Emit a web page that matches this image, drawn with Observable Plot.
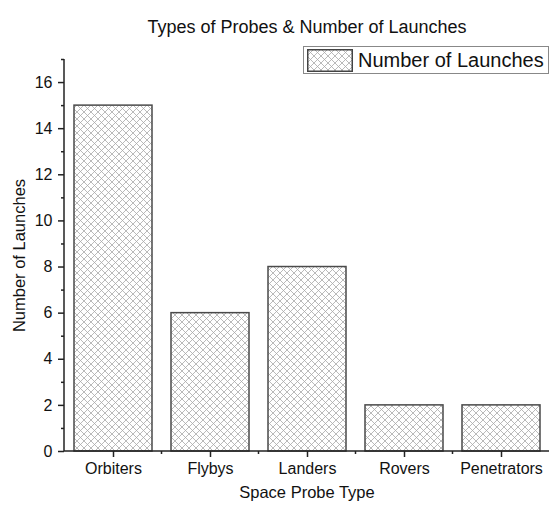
<!DOCTYPE html>
<html><head><meta charset="utf-8">
<script src="https://cdn.jsdelivr.net/npm/d3@7"></script>
<script src="https://cdn.jsdelivr.net/npm/@observablehq/plot@0.6"></script>
<style>
body{margin:0;background:#fff;font-family:"Liberation Sans",Arial,sans-serif}
#wrap{position:relative;width:558px;height:513px}
#legend{position:absolute;left:303px;top:46px;width:246px;height:28px;box-sizing:border-box;border:1px solid #888;background:#fff}
#legend svg{position:absolute;left:3px;top:2px}
#legend span{position:absolute;left:54px;top:1px;font-size:20px;line-height:24px;color:#111;white-space:nowrap}
</style></head><body><div id="wrap"></div>
<script>
const categories = ["Orbiters","Flybys","Landers","Rovers","Penetrators"];
const launches = [15,6,8,2,2];
const yMajorTicks = [0,2,4,6,8,10,12,14,16];
const yMinorTicks = [1,3,5,7,9,11,13,15,17];
const titleText = "Types of Probes & Number of Launches";
const xLabel = "Space Probe Type";
const yLabel = "Number of Launches";
const seriesName = "Number of Launches";

const data = categories.map((c,i)=>({type:c, n:launches[i]}));

const chart = Plot.plot({
  width:558, height:513, marginLeft:64, marginRight:9, marginTop:59, marginBottom:62,
  style:{fontFamily:'"Liberation Sans",Arial,sans-serif', fontSize:"16px", color:"#111", background:"#fff", overflow:"visible"},
  x:{domain:categories, paddingInner:0.2, paddingOuter:0.1},
  y:{domain:[0,17]},
  marks:[
    Plot.barY(data,{x:"type", y:"n", fill:"url(#hatch)", stroke:"#4a4a4a", strokeWidth:1.5}),
    Plot.axisY(yMajorTicks,{tickSize:6, tickPadding:6, label:null, strokeWidth:1.5, stroke:"#222"}),
    Plot.axisY(yMinorTicks,{tickSize:3, text:null, label:null, strokeWidth:1.5, stroke:"#222"}),
    Plot.axisX({tickSize:6, tickPadding:5, label:null, strokeWidth:1.5, stroke:"#222"}),
    Plot.text([titleText],{frameAnchor:"top", dy:-39, fontSize:18, fill:"#111"}),
    Plot.text([xLabel],{frameAnchor:"bottom", dy:46, fontSize:16.5, fill:"#111"}),
    Plot.text([8.5],{y:d=>d, text:()=>yLabel, frameAnchor:"left", textAnchor:"middle", dx:-45, rotate:-90, fontSize:16.5, fill:"#111"})
  ]
});

const svg = d3.select(chart);
const defs = svg.insert("defs",":first-child");
const pat = defs.append("pattern").attr("id","hatch").attr("patternUnits","userSpaceOnUse").attr("width",7).attr("height",7);
pat.append("rect").attr("width",7).attr("height",7).attr("fill","#fff");
pat.append("path").attr("d","M0,0L7,7M7,0L0,7M-1,6L1,8M6,-1L8,1").attr("stroke","#a8a8a8").attr("stroke-width",0.8);

const xs = chart.scale("x"), ys = chart.scale("y");
const [x0,x1] = xs.range, [yb,yt] = ys.range;
const g = svg.append("g").attr("stroke","#222").attr("stroke-width",1.5);
g.append("line").attr("x1",x0).attr("x2",x0).attr("y1",yb).attr("y2",yt);
g.append("line").attr("x1",x0).attr("x2",x1).attr("y1",yb).attr("y2",yb);
const gap = (xs.step - xs.bandwidth)/2;
categories.slice(1).forEach(c=>{
  const bx = xs.apply(c) - gap;
  g.append("line").attr("x1",bx).attr("x2",bx).attr("y1",yb).attr("y2",yb+3);
});

const wrap = document.getElementById("wrap");
wrap.appendChild(chart);
const leg = document.createElement("div");
leg.id = "legend";
leg.innerHTML = `<svg width="46" height="23"><defs><pattern id="hatchL" patternUnits="userSpaceOnUse" width="7" height="7"><rect width="7" height="7" fill="#fff"/><path d="M0,0L7,7M7,0L0,7" stroke="#a8a8a8" stroke-width="0.8"/></pattern></defs><rect x="0.75" y="0.75" width="44.5" height="21.5" fill="url(#hatchL)" stroke="#444" stroke-width="1.5"/></svg><span>${seriesName}</span>`;
wrap.appendChild(leg);
</script></body></html>
